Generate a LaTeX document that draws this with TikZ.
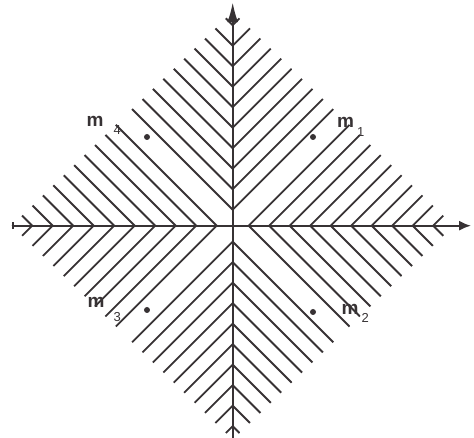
\documentclass[tikz,border=0pt]{standalone}
\usepackage{fontspec}
\setmainfont{Liberation Sans}
\usetikzlibrary{arrows.meta}
\definecolor{ink}{RGB}{55,50,52}
\begin{document}
\begin{tikzpicture}[x=1pt,y=1pt,
  hatch/.style={draw=ink,line width=1.8pt},
  axis/.style={draw=ink,line width=2.2pt},
  pt/.style={circle,fill=ink,inner sep=0pt,minimum size=6pt},
  lab/.style={inner sep=0pt,anchor=base west,text=ink,font=\fontsize{19}{19}\selectfont\bfseries}]
\useasboundingbox (-232.7,-212.3) rectangle (241.3,225.7);
\def\Rx{221}\def\Ry{214}
% upper-right quadrant: lines x - y = c
\begin{scope}
\clip (0,0) -- (\Rx,0) -- (0,\Ry) -- cycle;
\foreach \k in {0,...,10}{
  \pgfmathsetmacro\d{16+20.5*\k}
  \draw[hatch] (\d-300,-300) -- (\d+300,300);
  \draw[hatch] (-\d-300,-300) -- (-\d+300,300);}
\end{scope}
% upper-left quadrant: lines x + y = c
\begin{scope}
\clip (0,0) -- (-\Rx,0) -- (0,\Ry) -- cycle;
\foreach \k in {0,...,10}{
  \pgfmathsetmacro\d{16+20.5*\k}
  \draw[hatch] (\d-300,300) -- (\d+300,-300);
  \draw[hatch] (-\d-300,300) -- (-\d+300,-300);}
\end{scope}
% lower-left quadrant: lines x - y = c
\begin{scope}
\clip (0,0) -- (-\Rx,0) -- (0,-\Ry) -- cycle;
\foreach \k in {0,...,10}{
  \pgfmathsetmacro\d{16+20.5*\k}
  \draw[hatch] (\d-300,-300) -- (\d+300,300);
  \draw[hatch] (-\d-300,-300) -- (-\d+300,300);}
\end{scope}
% lower-right quadrant: lines x + y = c
\begin{scope}
\clip (0,0) -- (\Rx,0) -- (0,-\Ry) -- cycle;
\foreach \k in {0,...,10}{
  \pgfmathsetmacro\d{16+20.5*\k}
  \draw[hatch] (\d-300,300) -- (\d+300,-300);
  \draw[hatch] (-\d-300,300) -- (-\d+300,-300);}
\end{scope}
% axes
\coordinate (xl) at (-220.7,0);
\coordinate (xr) at (238.5,0);
\coordinate (yb) at (0,-212.3);
\coordinate (yt) at (0,223.5);
\draw[axis,{Bar[width=7pt,line width=2pt]}-{Latex[length=12pt,width=10pt]}] (xl) -- (xr);
\draw[axis,-{Latex[length=20pt,width=11pt]}] (yb) -- (yt);
% points
\node[pt] (p1) at (80.3,88.7) {};
\node[pt] (p4) at (-85.7,88.7) {};
\node[pt] (p3) at (-85.7,-84.3) {};
\node[pt] (p2) at (80.3,-86.3) {};
% labels
\node[lab] (l4) at (-146.2,98.7) {m\hspace{10pt}\raisebox{-8pt}{\fontsize{13}{13}\selectfont\mdseries 4}};
\node[lab] (l1) at (104.3,98.3) {m\hspace{3pt}\raisebox{-9pt}{\fontsize{13}{13}\selectfont\mdseries 1}};
\node[lab] (l3) at (-145.2,-82.3) {m\hspace{9pt}\raisebox{-14pt}{\fontsize{13}{13}\selectfont\mdseries 3}};
\node[lab] (l2) at (108.8,-89.3) {m\hspace{3pt}\raisebox{-8pt}{\fontsize{13}{13}\selectfont\mdseries 2}};
\end{tikzpicture}
\end{document}
